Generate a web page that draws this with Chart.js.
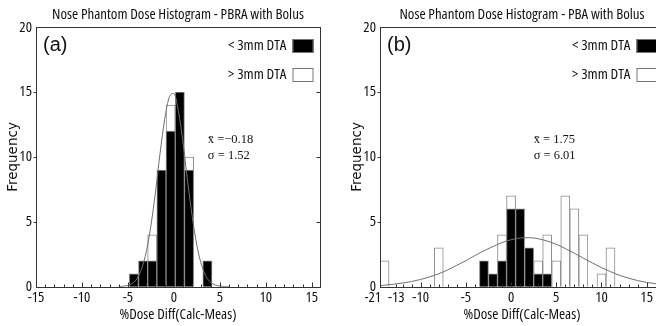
<!DOCTYPE html>
<html>
<head>
<meta charset="utf-8">
<script src="https://cdn.jsdelivr.net/npm/chart.js@4.4.1/dist/chart.umd.min.js"></script>
<style>
  html, body { margin: 0; padding: 0; background: #fff; }
  body { width: 656px; height: 326px; overflow: hidden; position: relative; }
  canvas { position: absolute; top: 0; }
  #hist-a { left: 0; }
  #hist-b { left: 340px; }
</style>
</head>
<body>
<canvas id="hist-a" width="330" height="326"></canvas>
<canvas id="hist-b" width="334" height="326"></canvas>
<script>
// (a) PBRA with bolus
const binsA = [-4.35, -3.35, -2.35, -1.35, -0.35, 0.65, 1.65, 3.65];
const under3mmA = [1, 2, 2, 9, 12, 15, 9, 2];
// white bars show the full count of the bin, black part sits in front
const over3mmBinsA = [-2.35, -0.35, 1.65];
const over3mmA = [4, 14, 10];
const fitXA = [-6, -5, -4.5, -4, -3.5, -3, -2.5, -2, -1.5, -1, -0.5, 0, 0.5, 1, 1.5, 2, 2.5, 3, 3.5, 4, 4.5, 5, 6];
const fitYA = [0, 0.1, 0.26, 0.64, 1.4, 2.7, 4.7, 7.3, 10.3, 12.9, 14.6, 14.9, 13.5, 11.1, 8.1, 5.4, 3.2, 1.7, 0.8, 0.34, 0.13, 0.05, 0];
const xTicksA = [-15, -10, -5, 0, 5, 10, 15];
const xTickLabelsA = ['-15', '-10', '-5', '0', '5', '10', '15'];

// (b) PBA with bolus -- broken axis on the left, -21 and -13 squeezed in
const binsB = [-3, -2, -1, 0, 1, 2, 3, 4];
const under3mmB = [2, 1, 2, 6, 6, 3, 1, 1];
const over3mmBinsB = [-14, -8, -1, 0, 3, 4, 5, 6, 7, 8, 10, 11];
const over3mmB = [2, 3, 4, 7, 2, 4, 2, 7, 6, 4, 1, 3];
const fitXB = [-14.5, -13, -12, -11, -10, -9, -8, -7, -6, -5, -4, -3, -2, -1, 0, 1, 2, 3, 4, 5, 6, 7, 8, 9, 10, 11, 12, 13, 14, 15, 16, 17];
const fitYB = [0.08, 0.19, 0.28, 0.4, 0.56, 0.76, 1.0, 1.3, 1.65, 2.0, 2.4, 2.77, 3.1, 3.4, 3.62, 3.75, 3.78, 3.7, 3.52, 3.27, 2.94, 2.58, 2.2, 1.83, 1.47, 1.16, 0.88, 0.66, 0.47, 0.33, 0.23, 0.16];
const xTicksB = [-15.3, -12.7, -10, -5, 0, 5, 10, 15];
const xTickLabelsB = ['-21', '-13', '-10', '-5', '0', '5', '10', '15'];

const yTicks = [0, 5, 10, 15, 20];

const SANS = "'DejaVu Sans', sans-serif";
const TAG = "'Liberation Sans', Arial, sans-serif";
const SERIF = "'Liberation Serif', 'DejaVu Serif', serif";

// the original lettering is a tall narrow sans; take the narrowest face around
const probe = document.createElement('canvas').getContext('2d');
function widthOf(font, s) { probe.font = font; return probe.measureText(s).width; }
const TEST = 'Nose Phantom Dose Histogram 0123456789';
function pickNarrow() {
  if (widthOf("20px 'Liberation Sans Narrow', monospace", TEST) !== widthOf('20px monospace', TEST)) {
    return { weight: 'normal', family: "'Liberation Sans Narrow'" };
  }
  for (const fam of ["'Noto Sans'", "'Open Sans'", 'Roboto', "'DejaVu Sans'"]) {
    const n = widthOf('normal normal normal 20px ' + fam, TEST);
    for (const st of ['extra-condensed', 'condensed']) {
      const c = widthOf('normal normal ' + st + ' 20px ' + fam, TEST);
      if (c < 0.95 * n) return { weight: 'normal ' + st, family: fam };
    }
  }
  return { weight: 'normal', family: "'DejaVu Sans Condensed'" };
}
const NARROW = pickNarrow();
function sizeFor(text, target) {
  return 20 * target / widthOf('normal ' + NARROW.weight + ' 20px ' + NARROW.family, text);
}
const titleSize = sizeFor('Nose Phantom Dose Histogram - PBRA with Bolus', 252);
const axisSize = sizeFor('%Dose Diff(Calc-Meas)', 117);
const legendSize = sizeFor('< 3mm DTA', 58.5);
const narrowFont = size => ({ family: NARROW.family, weight: NARROW.weight, size: size, lineHeight: 1.2 });

function pts(xs, ys) {
  return xs.map((x, i) => ({ x: x, y: ys[i] }));
}

// frame, axis ticks, legend, panel tag and the stats text
const decorations = {
  id: 'decorations',
  afterDatasetsDraw(chart, args, opts) {
    const { ctx, chartArea: a } = chart;
    const xs = chart.scales.x, ys = chart.scales.y;
    ctx.save();
    ctx.strokeStyle = '#333';
    ctx.lineWidth = 1;
    const L = Math.round(a.left) + 0.5, T = Math.round(a.top) + 0.5;
    const R = Math.round(a.right) + 0.5, B = Math.round(a.bottom) + 0.5;
    ctx.strokeRect(L, T, R - L, B - T);

    ctx.beginPath();
    opts.minorTicks.forEach(v => {
      const px = Math.round(xs.getPixelForValue(v)) + 0.5;
      const len = v % 5 === 0 ? 5 : 3;
      ctx.moveTo(px, B);
      ctx.lineTo(px, B - len);
    });
    [5, 10, 15].forEach(v => {
      const py = Math.round(ys.getPixelForValue(v)) + 0.5;
      ctx.moveTo(R, py);
      ctx.lineTo(R - 4, py);
      ctx.moveTo(L, py);
      ctx.lineTo(L - 3, py);
    });
    ctx.stroke();

    // legend: text on the left, swatch on the right
    ctx.font = 'normal ' + NARROW.weight + ' ' + legendSize + 'px ' + NARROW.family;
    ctx.textAlign = 'right';
    ctx.textBaseline = 'middle';
    const bars = chart.data.datasets.filter(d => d.type !== 'line');
    bars.forEach((d, i) => {
      const cy = Math.round(a.top) + 19 + i * 29;
      ctx.fillStyle = '#111';
      ctx.fillText(d.label, R - 34, cy);
      ctx.fillStyle = d.backgroundColor;
      ctx.fillRect(R - 28, cy - 7, 21, 14);
      ctx.strokeStyle = '#777';
      ctx.strokeRect(R - 28 + 0.5, cy - 7 + 0.5, 20, 13);
    });

    ctx.textAlign = 'left';
    ctx.fillStyle = '#111';
    ctx.font = '20px ' + TAG;
    ctx.fillText(opts.tag, a.left + 7, a.top + 18);

    ctx.font = '12.5px ' + SERIF;
    const sx = xs.getPixelForValue(opts.statsAt[0]);
    const sy = ys.getPixelForValue(opts.statsAt[1]);
    opts.stats.forEach((s, i) => ctx.fillText(s, sx, sy + i * 16));
    ctx.restore();
  }
};

function makeChart(id, cfg) {
  return new Chart(document.getElementById(id), {
    type: 'bar',
    data: {
      datasets: [
        {
          type: 'line',
          label: 'fit',
          data: pts(cfg.fitX, cfg.fitY),
          borderColor: '#6f6f6f',
          borderWidth: 1,
          pointRadius: 0,
          fill: false,
          cubicInterpolationMode: 'monotone'
        },
        {
          label: '< 3mm DTA',
          data: pts(cfg.bins, cfg.under),
          backgroundColor: '#000',
          borderColor: '#8a8a8a',
          borderWidth: 1,
          grouped: false,
          categoryPercentage: 1,
          barPercentage: 1
        },
        {
          label: '> 3mm DTA',
          data: pts(cfg.overBins, cfg.over),
          backgroundColor: '#fff',
          borderColor: '#8a8a8a',
          borderWidth: 1,
          grouped: false,
          categoryPercentage: 1,
          barPercentage: 1
        }
      ]
    },
    options: {
      responsive: false,
      animation: false,
      layout: { padding: { left: 0, right: 10, top: 0, bottom: 0 } },
      plugins: {
        legend: { display: false },
        tooltip: { enabled: false },
        title: {
          display: true,
          text: cfg.title,
          fullSize: false,
          color: '#111',
          font: narrowFont(titleSize),
          padding: { top: 15 - 0.6 * titleSize, bottom: 12.3 - 0.6 * titleSize }
        },
        decorations: cfg.deco
      },
      scales: {
        x: {
          type: 'linear',
          offset: false,
          min: cfg.xMin,
          max: cfg.xMax,
          grid: { display: false, drawTicks: false },
          border: { display: false },
          afterBuildTicks: s => { s.ticks = cfg.xTicks.map(v => ({ value: v })); },
          afterFit: s => { s.height = 39.3; },
          ticks: {
            autoSkip: false,
            maxRotation: 0,
            padding: 11.3 - 0.6 * axisSize,
            color: '#111',
            font: narrowFont(axisSize),
            callback: (v, i) => cfg.xLabels[i]
          },
          title: {
            display: true,
            text: '%Dose Diff(Calc-Meas)',
            color: '#111',
            font: narrowFont(axisSize),
            padding: { top: 0, bottom: 11 - 0.6 * axisSize }
          }
        },
        y: {
          min: 0,
          max: 20,
          grid: { display: false, drawTicks: false },
          border: { display: false },
          afterBuildTicks: s => { s.ticks = yTicks.map(v => ({ value: v })); },
          afterFit: s => { s.width = cfg.yWidth; },
          ticks: {
            padding: 4,
            color: '#111',
            font: narrowFont(axisSize)
          },
          title: {
            display: true,
            text: 'Frequency',
            color: '#111',
            font: { family: SANS, size: 13.5, lineHeight: 1.2 },
            padding: { top: cfg.yWidth - 31, bottom: 0 }
          }
        }
      }
    },
    plugins: [decorations]
  });
}

const intsA = [];
for (let v = -15; v <= 15; v++) intsA.push(v);
const intsB = [-12.7];
for (let v = -12; v <= 16; v++) intsB.push(v);

makeChart('hist-a', {
  title: 'Nose Phantom Dose Histogram - PBRA with Bolus',
  bins: binsA, under: under3mmA, overBins: over3mmBinsA, over: over3mmA,
  fitX: fitXA, fitY: fitYA,
  xMin: -15, xMax: 15.9, xTicks: xTicksA, xLabels: xTickLabelsA,
  yWidth: 36,
  deco: { minorTicks: intsA, tag: '(a)', stats: ['x\u0304 =\u22120.18', '\u03c3 = 1.52'], statsAt: [3.7, 11.3] }
});

makeChart('hist-b', {
  title: 'Nose Phantom Dose Histogram - PBA with Bolus',
  bins: binsB, under: under3mmB, overBins: over3mmBinsB, over: over3mmB,
  fitX: fitXB, fitY: fitYB,
  xMin: -14.5, xMax: 16.92, xTicks: xTicksB, xLabels: xTickLabelsB,
  yWidth: 40,
  deco: { minorTicks: intsB, tag: '(b)', stats: ['x\u0304 = 1.75', '\u03c3 = 6.01'], statsAt: [2.5, 11.3] }
});
</script>
</body>
</html>
